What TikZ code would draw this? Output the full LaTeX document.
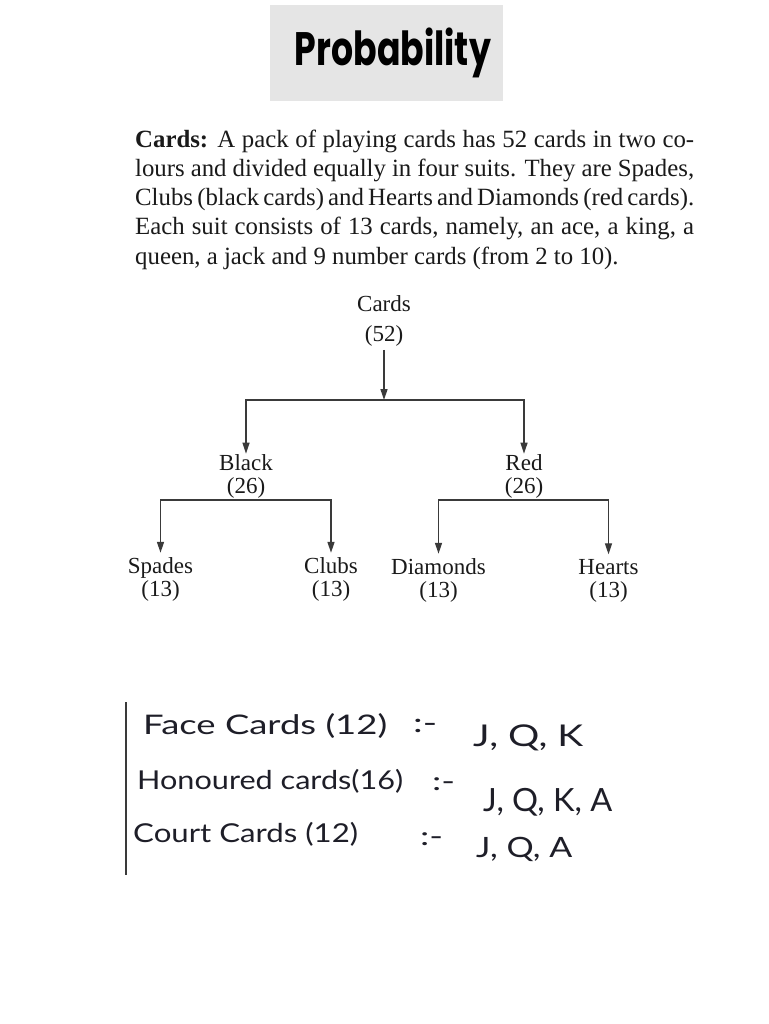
\documentclass[tikz,border=0pt]{standalone}
\usepackage{fontspec}
\setmainfont{Liberation Serif}
\newfontfamily\titlefont{Poppins}
\newfontfamily\hwfont{Lato}
\usetikzlibrary{arrows.meta}
\definecolor{titlegray}{HTML}{E5E5E5}
\definecolor{ink}{HTML}{1A1A1A}
\definecolor{lineclr}{HTML}{3A3A3A}
\definecolor{hwink}{HTML}{1E1E28}
\newcommand{\hwfit}[2]{\resizebox{#1}{\height}{#2}}
\newcommand{\twoline}[2]{\begin{tabular}[b]{@{}c@{}}#1\\#2\end{tabular}}
\begin{document}
\begin{tikzpicture}[x=1pt,y=-1pt,
  treelabel/.style={inner sep=0pt, anchor=base, text=ink},
  cardsfont/.style={font=\fontsize{23}{29.3}\selectfont},
  midfont/.style={font=\fontsize{23}{23}\selectfont},
  leaffont/.style={font=\fontsize{23}{22}\selectfont},
  para/.style={inner sep=0pt, anchor=base west, text=ink, font=\fontsize{24.8}{29}\selectfont},
  conn/.style={draw=lineclr, line width=1.3pt, -{Triangle[length=11pt,width=7pt]}},
  leafconn/.style={conn, shorten >=4.5pt},
  hw/.style={inner sep=0pt, anchor=base west, text=hwink}
]
\useasboundingbox (0,0) rectangle (768,1024);
\fill[white] (0,0) rectangle (768,1024);

% title
\fill[titlegray] (270,5) rectangle (503,101);
\node[inner sep=0pt, text=black] (title) at (393,53) {\resizebox*{196pt}{50pt}{\titlefont\bfseries Probability}};

% paragraph
\node[para] (p1) at (135,148) {\makebox[559pt][s]{\textbf{Cards:} A pack of playing cards has 52 cards in two co-}};
\node[para] (p2) at (135,177) {\makebox[559pt][s]{lours and divided equally in four suits. They are Spades,}};
\node[para] (p3) at (135,206) {\makebox[559pt][s]{Clubs (black cards) and Hearts and Diamonds (red cards).}};
\node[para] (p4) at (135,235) {\makebox[559pt][s]{Each suit consists of 13 cards, namely, an ace, a king, a}};
\node[para] (p5) at (135,264) {queen, a jack and 9 number cards (from 2 to 10).};

% tree
\node[treelabel, cardsfont] (cards) at (384,341) {\twoline{Cards}{(52)}};
\coordinate (j1) at (384,400);
\node[treelabel, midfont] (black) at (246,493) {\twoline{Black}{(26)}};
\node[treelabel, midfont] (red) at (524,493) {\twoline{Red}{(26)}};
\node[treelabel, leaffont] (spades) at (160.5,596) {\twoline{Spades}{(13)}};
\node[treelabel, leaffont] (clubs) at (331,596) {\twoline{Clubs}{(13)}};
\node[treelabel, leaffont] (diamonds) at (438.5,597) {\twoline{Diamonds}{(13)}};
\node[treelabel, leaffont] (hearts) at (608.5,597) {\twoline{Hearts}{(13)}};

\draw[conn] (cards.south) -- (j1);
\draw[conn] (j1) -| (black.north);
\draw[conn] (j1) -| (red.north);
\draw[leafconn] (black.south) -| (spades.north);
\draw[leafconn] (black.south) -| (clubs.north);
\draw[leafconn] (red.south) -| (diamonds.north);
\draw[leafconn] (red.south) -| (hearts.north);

% handwritten notes
\draw[draw=lineclr, line width=1.6pt] (126,702) -- (126,875);
\node[hw, font=\hwfont\fontsize{27}{30}\selectfont] (face) at (143,734) {\hwfit{244pt}{Face Cards (12)}};
\node[hw, font=\hwfont\fontsize{27}{30}\selectfont] (d1) at (413,732) {\hwfit{24pt}{:-}};
\node[hw, font=\hwfont\fontsize{30}{32}\selectfont] (v1) at (473,746) {\hwfit{110pt}{J, Q, K}};

\node[hw, font=\hwfont\fontsize{26}{30}\selectfont] (hon) at (137,789) {\hwfit{266pt}{Honoured cards(16)}};
\node[hw, font=\hwfont\fontsize{26}{30}\selectfont] (d2) at (432,790) {\hwfit{23pt}{:-}};
\node[hw, font=\hwfont\fontsize{32}{34}\selectfont] (v2) at (483,811) {\hwfit{129pt}{J, Q, K, A}};

\node[hw, font=\hwfont\fontsize{26}{30}\selectfont] (court) at (133,842) {\hwfit{225pt}{Court Cards (12)}};
\node[hw, font=\hwfont\fontsize{26}{30}\selectfont] (d3) at (420,845) {\hwfit{23pt}{:-}};
\node[hw, font=\hwfont\fontsize{28}{30}\selectfont] (v3) at (476,857) {\hwfit{96pt}{J, Q, A}};
\end{tikzpicture}
\end{document}
